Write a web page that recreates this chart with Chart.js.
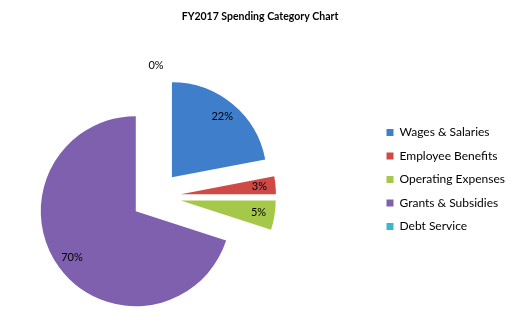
<!DOCTYPE html>
<html>
<head>
<meta charset="utf-8">
<script src="https://cdn.jsdelivr.net/npm/chart.js@4/dist/chart.umd.min.js"></script>
<style>
  html, body { margin: 0; padding: 0; background: #fff; overflow: hidden; }
  /* el lienzo sobresale a ambos lados para que la torta quede a la izquierda */
  #grafica { display: block; position: absolute; left: -63px; top: 0; }
</style>
</head>
<body>
<canvas id="grafica" width="646" height="333"></canvas>
<script>
const TITULO = "FY2017 Spending Category Chart";
const CATEGORIAS = ["Wages & Salaries", "Employee Benefits", "Operating Expenses", "Grants & Subsidies", "Debt Service"];
const VALORES = [22, 3, 5, 70, 0];
const COLORES = ["#3f7ecb", "#cf4a47", "#a6c84a", "#7f60ae", "#3fb5cf"];

const FUENTE = "Lato, 'Open Sans', sans-serif";
const EXPLOSION = 25;

// mueve cada porcion hacia afuera, sin agrandar el radio como hace "offset"
const separar = {
  id: "separar",
  afterDatasetsUpdate(chart) {
    chart.getDatasetMeta(0).data.forEach(arc => {
      const mid = (arc.startAngle + arc.endAngle) / 2;
      arc.x += Math.cos(mid) * EXPLOSION;
      arc.y += Math.sin(mid) * EXPLOSION;
    });
  }
};

const etiquetas = {
  id: "etiquetas",
  afterDatasetsDraw(chart) {
    const ctx = chart.ctx;
    const total = VALORES.reduce((a, b) => a + b, 0);
    ctx.save();
    ctx.font = `11px ${FUENTE}`;
    ctx.fillStyle = "#000";
    ctx.textAlign = "center";
    ctx.textBaseline = "middle";
    chart.getDatasetMeta(0).data.forEach((arc, i) => {
      const mid = (arc.startAngle + arc.endAngle) / 2;
      const r = arc.outerRadius * (VALORES[i] === 0 ? 1.12 : 0.83);
      const pct = Math.round(VALORES[i] / total * 100) + "%";
      ctx.fillText(pct, arc.x + Math.cos(mid) * r, arc.y + Math.sin(mid) * r);
    });
    ctx.restore();
  }
};

const tituloCentrado = {
  id: "tituloCentrado",
  afterDraw(chart) {
    const ctx = chart.ctx;
    ctx.save();
    ctx.font = `bold 10.5px ${FUENTE}`;
    ctx.fillStyle = "#000";
    ctx.textAlign = "center";
    ctx.textBaseline = "middle";
    ctx.fillText(TITULO, chart.width / 2, 17);
    ctx.restore();
  }
};

new Chart(document.getElementById("grafica"), {
  type: "pie",
  data: {
    labels: CATEGORIAS,
    datasets: [{
      data: VALORES,
      backgroundColor: COLORES,
      borderWidth: 0
    }]
  },
  options: {
    responsive: false,
    animation: false,
    devicePixelRatio: 1,
    radius: 95,
    layout: { padding: { top: 115, bottom: 55, left: 0, right: 68 } },
    plugins: {
      tooltip: { enabled: false },
      legend: {
        position: "right",
        align: "start",
        labels: {
          boxWidth: 7,
          boxHeight: 7,
          padding: 11.5,
          color: "#000",
          font: { family: FUENTE, size: 12 }
        }
      }
    }
  },
  plugins: [separar, etiquetas, tituloCentrado]
});
</script>
</body>
</html>
